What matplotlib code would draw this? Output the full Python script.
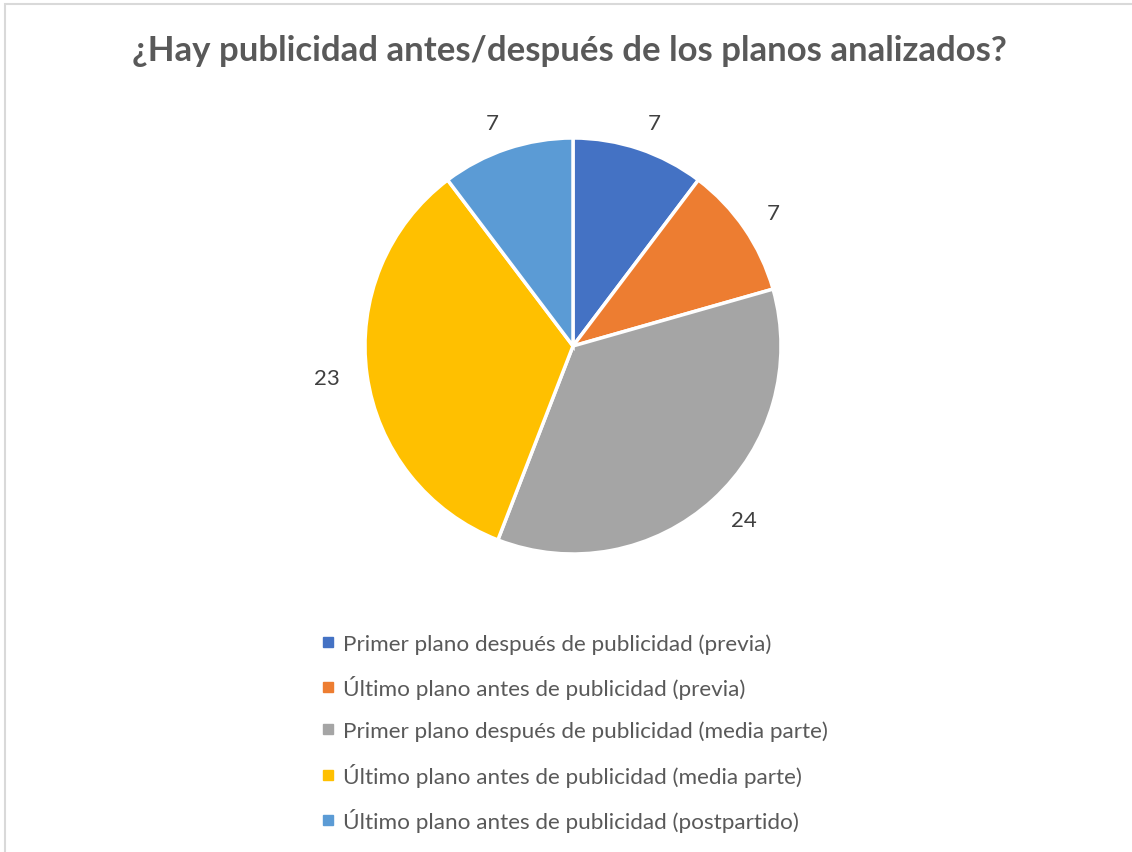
import matplotlib
matplotlib.use("Agg")
import matplotlib.pyplot as plt
from matplotlib.lines import Line2D
from matplotlib.patches import Rectangle

categories = [
    "Primer plano después de publicidad (previa)",
    "Último plano antes de publicidad (previa)",
    "Primer plano después de publicidad (media parte)",
    "Último plano antes de publicidad (media parte)",
    "Último plano antes de publicidad (postpartido)",
]
values = [7, 7, 24, 23, 7]
colors = ["#4472C4", "#ED7D31", "#A5A5A5", "#FFC000", "#5B9BD5"]
title = "¿Hay publicidad antes/después de los planos analizados?"

plt.rcParams['font.family'] = ['Lato', 'DejaVu Sans']

W, H = 1132, 853
fig = plt.figure(figsize=(W / 100, H / 100), dpi=100)
fig.patch.set_facecolor("white")

# chart border
fig.add_artist(Rectangle((5 / W, -0.01), (W + 10) / W, (H - 5) / H + 0.01,
                         transform=fig.transFigure, fill=False,
                         edgecolor="#D9D9D9", linewidth=1.5))

cx, cy, r = 573, 347, 208
ax = fig.add_axes([(cx - r) / W, (H - cy - r) / H, 2 * r / W, 2 * r / H])
wedges, texts = ax.pie(values, colors=colors, startangle=90, counterclock=False,
                       labels=[str(v) for v in values], labeldistance=1.13,
                       wedgeprops=dict(edgecolor="white", linewidth=2.5),
                       textprops=dict(fontsize=16, color="#404040"), radius=1.0)
ax.set_xlim(-1, 1)
ax.set_ylim(-1, 1)
ax.set_aspect("equal")

fig.text(569 / W, 1 - 51 / H, title, ha="center", va="center",
         fontsize=25.0, fontweight="bold", color="#595959")

handles = [Line2D([0], [0], marker="s", linestyle="none", markersize=7,
                  markerfacecolor=c, markeredgecolor=c) for c in colors]
fig.legend(handles, categories, loc="upper left",
           bbox_to_anchor=(310 / W, 1 - 623 / H), frameon=False,
           fontsize=16.2, labelcolor="#595959", handlelength=0.6,
           handletextpad=0.35, labelspacing=0.95, borderpad=0)

fig.savefig("out.png", dpi=100)
